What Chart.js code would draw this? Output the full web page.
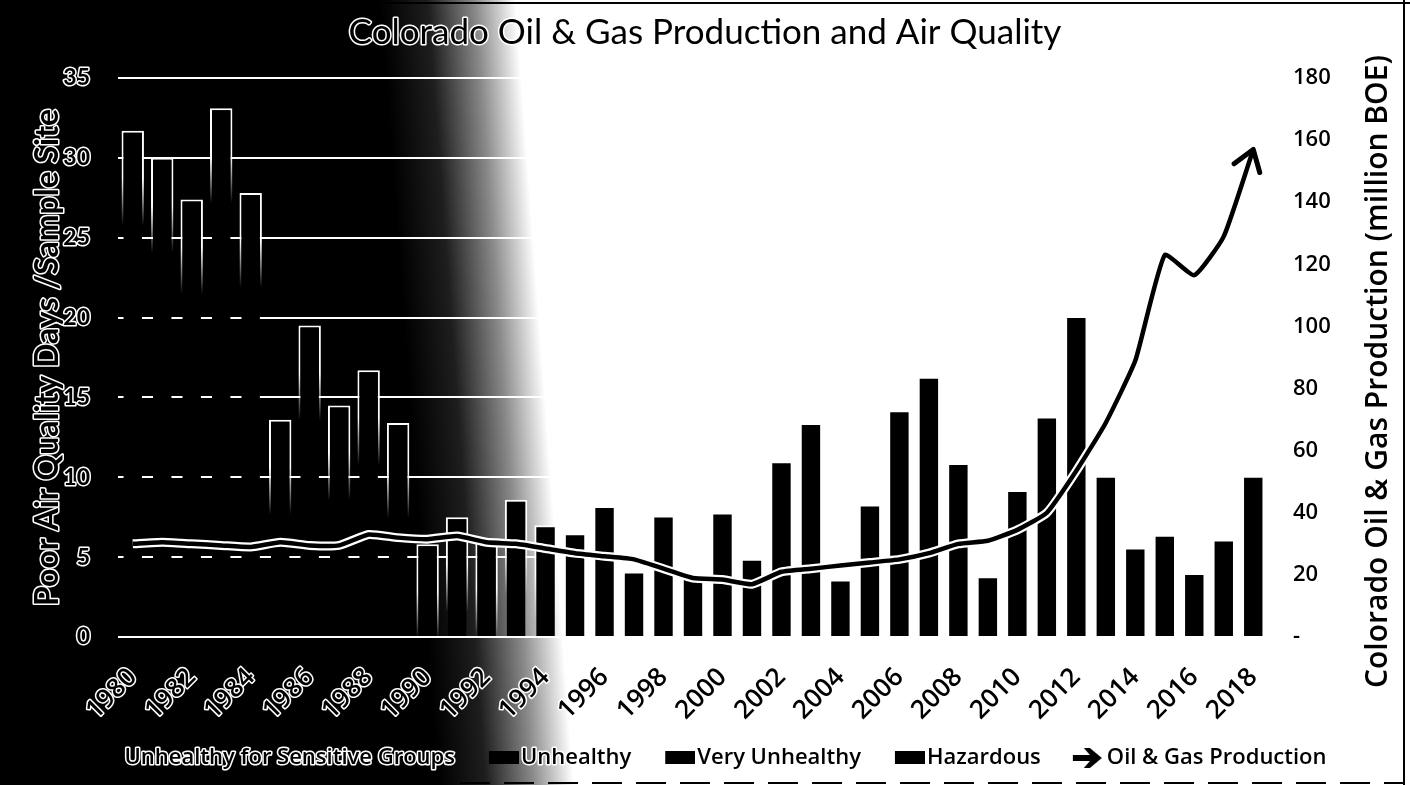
<!DOCTYPE html>
<html>
<head>
<meta charset="utf-8">
<script src="https://cdn.jsdelivr.net/npm/chart.js@4.4.1/dist/chart.umd.min.js"></script>
<style>
  html, body { margin: 0; padding: 0; background: #fff; }
  #wrap { width: 1410px; height: 785px; }
</style>
</head>
<body>
<div id="wrap"><canvas id="c" width="1410" height="785"></canvas></div>
<script>
// ---------- data ----------
const chartTitle = 'Colorado Oil & Gas Production and Air Quality';
const leftAxisTitle = 'Poor Air Quality Days /Sample Site';
const rightAxisTitle = 'Colorado Oil & Gas Production (million BOE)';

const years = ['1980','1981','1982','1983','1984','1985','1986','1987','1988','1989',
               '1990','1991','1992','1993','1994','1995','1996','1997','1998','1999',
               '2000','2001','2002','2003','2004','2005','2006','2007','2008','2009',
               '2010','2011','2012','2013','2014','2015','2016','2017','2018'];

const xTickLabels = ['1980','1982','1984','1986','1988','1990','1992','1994','1996','1998',
                     '2000','2002','2004','2006','2008','2010','2012','2014','2016','2018'];

// Poor air quality days per sample site (all categories, bar height as seen)
const poorAirDays = [31.7, 30.0, 27.4, 33.1, 27.8, 13.6, 19.5, 14.5, 16.7, 13.4,
                     5.8, 7.5, 6.0, 8.6, 7.0, 6.5, 8.2, 4.1, 7.6, 3.8,
                     7.8, 4.9, 11.0, 13.4, 3.6, 8.3, 14.2, 16.3, 10.9, 3.8,
                     9.2, 13.8, 20.1, 10.1, 5.6, 6.4, 4.0, 6.1, 10.1];
const unhealthyDays = [];
const veryUnhealthyDays = [];
const hazardousDays = [];

// Oil & gas production, million BOE
const production = [30, 30.5, 30, 29.5, 29, 30.5, 29.5, 29.5, 33, 32,
                    31.5, 32.5, 30.5, 30, 28.5, 27, 26, 25, 22, 19,
                    18.5, 17, 21, 22, 23, 24, 25, 27, 30, 31,
                    34.5, 40, 53.5, 69, 89, 123, 116.5, 129, 157];

const legendNames = ['Unhealthy for Sensitive Groups', 'Unhealthy', 'Very Unhealthy', 'Hazardous', 'Oil & Gas Production'];

const leftMax = 35, leftStep = 5;
const rightMax = 180, rightStep = 20;

// ---------- helpers ----------
const FONT = 'Lato, "Open Sans", "DejaVu Sans", sans-serif';
const FONT2 = '"Open Sans", Lato, "DejaVu Sans", sans-serif';

function rectIcon() {
  const c = document.createElement('canvas');
  c.width = 48; c.height = 14;
  const x = c.getContext('2d');
  x.fillStyle = '#000';
  x.fillRect(18, 0, 30, 13);
  return c;
}
function arrowIcon() {
  const c = document.createElement('canvas');
  c.width = 48; c.height = 24;
  const x = c.getContext('2d');
  x.fillStyle = '#000';
  x.beginPath();
  x.moveTo(16, 9); x.lineTo(33, 9); x.lineTo(27, 2); x.lineTo(33, 2);
  x.lineTo(45, 12); x.lineTo(33, 22); x.lineTo(27, 22); x.lineTo(33, 15);
  x.lineTo(16, 15); x.closePath(); x.fill();
  return c;
}
const legendIcons = [rectIcon(), rectIcon(), rectIcon(), rectIcon(), arrowIcon()];

// ---------- plugins ----------
const backgroundPlugin = {
  id: 'bgGradient',
  beforeDraw(chart) {
    const ctx = chart.ctx;
    if (!ctx._haloPatched) {
      const orig = ctx.fillText.bind(ctx);
      ctx.fillText = function (t, x, y, mw) {
        this.save();
        this.strokeStyle = '#fff';
        this.lineWidth = 3;
        this.lineJoin = 'round';
        if (mw === undefined) this.strokeText(t, x, y); else this.strokeText(t, x, y, mw);
        this.restore();
        if (mw === undefined) orig(t, x, y); else orig(t, x, y, mw);
      };
      ctx._haloPatched = true;
    }
    ctx.save();
    const g = ctx.createLinearGradient(380, 0, 515, -10);
    g.addColorStop(0, '#000');
    g.addColorStop(0.35, '#1e1e1e');
    g.addColorStop(0.7, '#8a8a8a');
    g.addColorStop(1, '#fff');
    ctx.fillStyle = g;
    ctx.fillRect(0, 0, chart.width, chart.height);
    ctx.restore();
  },
  afterDraw(chart) {
    const ctx = chart.ctx;
    ctx.save();
    // frame
    ctx.strokeStyle = '#000';
    ctx.lineWidth = 2;
    ctx.beginPath();
    ctx.moveTo(0, 3); ctx.lineTo(chart.width, 3);
    ctx.moveTo(1404, 0); ctx.lineTo(1404, chart.height);
    ctx.stroke();
    ctx.setLineDash([30, 14]);
    ctx.lineWidth = 2;
    ctx.beginPath();
    ctx.moveTo(460, 783); ctx.lineTo(1404, 783);
    ctx.stroke();
    ctx.setLineDash([]);
    // right axis title, reading bottom-to-top
    const y1 = chart.scales.y1;
    ctx.translate(1378, (y1.top + y1.bottom) / 2 + 14);
    ctx.rotate(-Math.PI / 2);
    ctx.font = '600 30px ' + FONT2;
    ctx.fillStyle = '#000';
    ctx.textAlign = 'center';
    ctx.textBaseline = 'middle';
    ctx.fillText(rightAxisTitle, 0, 0);
    ctx.restore();
  }
};

const arrowHeadPlugin = {
  id: 'arrowHead',
  afterDatasetsDraw(chart) {
    const meta = chart.getDatasetMeta(4);
    const pts = meta.data;
    if (!pts.length) return;
    const last = pts[pts.length - 1];
    const cx = last.cp1x !== undefined ? last.cp1x : pts[pts.length - 2].x;
    const cy = last.cp1y !== undefined ? last.cp1y : pts[pts.length - 2].y;
    const ang = Math.atan2(last.y - cy, last.x - cx);
    const len = 24, spread = 0.6;
    const ctx = chart.ctx;
    ctx.save();
    ctx.strokeStyle = '#000';
    ctx.lineWidth = 5;
    ctx.lineCap = 'round';
    ctx.lineJoin = 'round';
    ctx.beginPath();
    ctx.moveTo(last.x - len * Math.cos(ang - spread), last.y - len * Math.sin(ang - spread));
    ctx.lineTo(last.x, last.y);
    ctx.lineTo(last.x - len * Math.cos(ang + spread), last.y - len * Math.sin(ang + spread));
    ctx.stroke();
    ctx.restore();
  }
};

// white edge on the upper part of each bar, fading out downwards
function barEdge(c) {
  const ch = c.chart;
  const ys = ch.scales && ch.scales.y;
  if (!ys || c.raw == null || typeof c.raw !== 'number') return '#fff';
  const top = ys.getPixelForValue(c.raw);
  const g = ch.ctx.createLinearGradient(0, top, 0, top + 95);
  g.addColorStop(0, 'rgba(255,255,255,1)');
  g.addColorStop(0.5, 'rgba(255,255,255,1)');
  g.addColorStop(1, 'rgba(255,255,255,0)');
  return g;
}

// ---------- chart ----------
const barStyle = {
  type: 'bar',
  yAxisID: 'y',
  backgroundColor: '#000',
  borderColor: barEdge,
  borderWidth: { top: 2, left: 2, right: 2, bottom: 0 },
  borderSkipped: false,
  barPercentage: 0.76,
  categoryPercentage: 1.0,
  order: 2
};

new Chart(document.getElementById('c'), {
  data: {
    labels: years,
    datasets: [
      Object.assign({ label: legendNames[0], data: poorAirDays }, barStyle),
      Object.assign({ label: legendNames[1], data: unhealthyDays }, barStyle),
      Object.assign({ label: legendNames[2], data: veryUnhealthyDays }, barStyle),
      Object.assign({ label: legendNames[3], data: hazardousDays }, barStyle),
      {
        type: 'line', label: legendNames[4], data: production, yAxisID: 'y1',
        borderColor: '#000', borderWidth: 4.5, tension: 0.15, pointRadius: 0,
        fill: false, order: 0
      },
      {
        type: 'line', label: 'halo', data: production, yAxisID: 'y1',
        borderColor: '#fff', borderWidth: 9, tension: 0.15, pointRadius: 0,
        fill: false, order: 1
      }
    ]
  },
  options: {
    responsive: false,
    animation: false,
    devicePixelRatio: 1,
    layout: { padding: { left: 0, right: 0, top: 0, bottom: 6 } },
    plugins: {
      title: {
        display: true, text: chartTitle, color: '#000',
        font: { family: FONT, size: 35, weight: 'normal' },
        padding: { top: 12, bottom: 24 }
      },
      legend: {
        position: 'bottom',
        onClick: null,
        labels: {
          color: '#000',
          font: { family: FONT2, size: 22, weight: '600' },
          usePointStyle: true,
          pointStyleWidth: 30,
          padding: 25,
          generateLabels: () => legendNames.map((name, i) => ({
            text: name, fillStyle: '#000', strokeStyle: '#000', lineWidth: 0,
            pointStyle: legendIcons[i], hidden: false, datasetIndex: i, fontColor: '#000'
          }))
        }
      },
      tooltip: { enabled: false }
    },
    scales: {
      x: {
        stacked: true,
        grid: { display: false, drawTicks: false },
        border: { display: false },
        ticks: {
          autoSkip: false, maxRotation: 45, minRotation: 45, padding: 25,
          color: '#000', font: { family: FONT2, size: 26, weight: '600' },
          callback: (v, i) => xTickLabels.includes(years[i]) ? years[i] : ''
        },
        afterFit: s => { s.height = 85; }
      },
      y: {
        stacked: true, position: 'left', min: 0, max: leftMax,
        ticks: { stepSize: leftStep, padding: 28, color: '#000',
                 font: { family: FONT, size: 23, weight: 'bold' } },
        grid: { color: '#fff', lineWidth: 2, drawTicks: false },
        border: { display: false },
        title: {
          display: true, text: leftAxisTitle, color: '#000',
          font: { family: FONT, size: 32, weight: 'bold' },
          padding: { top: 28, bottom: 0 }
        },
        afterFit: s => { s.width = 118; }
      },
      y1: {
        position: 'right', min: 0, max: rightMax,
        ticks: { stepSize: rightStep, padding: 25, color: '#000',
                 font: { family: FONT2, size: 22, weight: '600' },
                 callback: v => v === 0 ? '-' : v },
        grid: { display: false, drawTicks: false },
        border: { display: false },
        afterFit: s => { s.width = 142; }
      }
    }
  },
  plugins: [backgroundPlugin, arrowHeadPlugin]
});
</script>
</body>
</html>
